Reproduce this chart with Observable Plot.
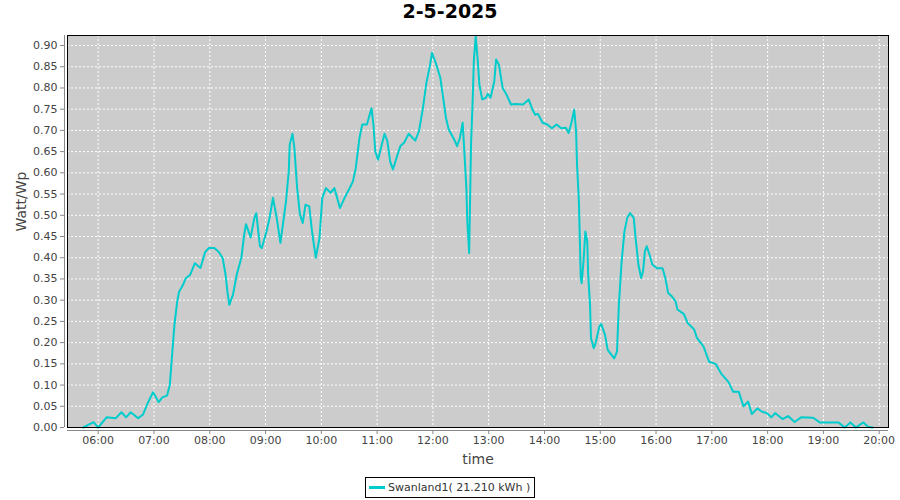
<!DOCTYPE html>
<html>
<head>
<meta charset="utf-8">
<script src="https://cdn.jsdelivr.net/npm/d3@7"></script>
<script src="https://cdn.jsdelivr.net/npm/@observablehq/plot@0.6"></script>
<style>
  body { margin: 0; background: #fff; }
  #wrap { width: 900px; height: 500px; position: relative; }
  #title { height: 30px; line-height: 30px; text-align: center; font: bold 19px "DejaVu Sans", sans-serif; color: #000; }
  #chart svg { display: block; }
  #legend { position: absolute; left: 365px; top: 477px; width: 168px; height: 19px; border: 1px solid #000;
            display: flex; align-items: center; font: 11px "DejaVu Sans", sans-serif; color: #333; white-space: nowrap; }
  #legend .sw { width: 16px; height: 3px; background: #00cccc; margin: 0 3px 0 3px; }
</style>
</head>
<body>
<div id="wrap">
  <div id="title"></div>
  <div id="chart"></div>
  <div id="legend"><span class="sw"></span><span id="legtext"></span></div>
</div>
<script>
const chartTitle = "2-5-2025";
const seriesName = "Swanland1( 21.210 kWh )";
const xLabel = "time";
const yLabel = "Watt/Wp";

const times = ["05:44","05:55","06:00","06:09","06:19","06:25","06:30","06:35","06:43","06:48","06:54","06:59",
"07:05","07:09","07:14","07:17","07:19","07:22","07:25","07:27","07:31","07:34","07:39","07:44","07:50","07:55","07:59",
"08:05","08:10","08:14","08:17","08:19","08:21","08:25","08:29","08:34","08:37","08:39","08:44","08:48","08:50","08:54","08:56",
"09:01","09:04","09:08","09:12","09:16","09:22","09:25","09:26","09:29","09:31","09:34","09:37","09:40","09:43","09:47","09:50","09:54","09:58",
"10:01","10:05","10:10","10:14","10:17","10:20","10:25","10:30","10:34","10:37","10:41","10:44","10:49","10:54","10:56","10:58",
"11:01","11:06","11:08","11:11","11:14","11:17","11:22","11:25","11:29","11:34","11:41","11:45","11:49","11:53","11:57","11:59",
"12:03","12:08","12:11","12:14","12:17","12:23","12:26","12:29","12:32","12:34","12:36","12:37","12:39","12:41","12:43","12:44","12:46","12:48","12:50","12:53","12:57","12:59",
"13:02","13:06","13:08","13:11","13:15","13:19","13:24","13:29","13:37","13:43","13:47","13:50","13:53","13:58",
"14:03","14:08","14:13","14:18","14:23","14:26","14:29","14:32","14:34","14:35","14:37","14:38","14:39","14:40","14:42","14:44","14:46","14:47","14:49","14:50","14:53","14:55","14:59",
"15:01","15:05","15:08","15:15","15:18","15:20","15:23","15:26","15:29","15:32","15:36","15:38","15:41","15:44","15:46","15:48","15:50","15:53","15:56",
"16:01","16:07","16:10","16:13","16:17","16:21","16:23","16:30","16:34","16:41","16:44","16:51","16:57",
"17:04","17:10","17:18","17:23","17:29","17:34","17:39","17:43","17:49","17:54","17:59",
"18:04","18:08","18:16","18:22","18:29","18:36","18:49","18:56",
"19:16","19:23","19:29","19:35","19:43","19:48","19:53"];

const values = [0,0.0125,0,0.024,0.022,0.036,0.024,0.036,0.022,0.030,0.061,0.083,
0.060,0.071,0.075,0.10,0.156,0.242,0.297,0.32,0.335,0.351,0.36,0.387,0.376,0.413,0.423,
0.423,0.413,0.398,0.36,0.32,0.289,0.313,0.36,0.40,0.454,0.479,0.448,0.494,0.505,0.427,0.423,
0.462,0.49,0.541,0.494,0.435,0.533,0.604,0.667,0.692,0.659,0.564,0.502,0.482,0.525,0.521,0.462,0.40,0.446,
0.541,0.564,0.553,0.564,0.541,0.517,0.541,0.562,0.58,0.611,0.682,0.714,0.714,0.752,0.714,0.651,
0.631,0.675,0.692,0.675,0.627,0.608,0.643,0.663,0.671,0.692,0.676,0.698,0.749,0.812,0.855,0.883,
0.859,0.824,0.777,0.73,0.702,0.678,0.663,0.682,0.718,0.643,0.564,0.486,0.411,0.667,0.785,0.863,0.922,0.871,0.808,0.773,0.777,0.786,
0.777,0.816,0.867,0.855,0.80,0.785,0.761,0.762,0.761,0.773,0.749,0.737,0.739,0.718,
0.714,0.705,0.714,0.705,0.706,0.694,0.718,0.749,0.698,0.62,0.533,0.446,0.352,0.34,0.392,0.462,0.439,0.36,0.289,0.211,0.187,0.199,0.238,
0.244,0.219,0.183,0.163,0.179,0.289,0.392,0.462,0.494,0.505,0.494,0.446,0.384,0.352,0.368,0.415,0.427,0.407,0.384,
0.375,0.375,0.352,0.317,0.309,0.297,0.278,0.267,0.246,0.231,0.211,0.191,0.155,
0.150,0.127,0.107,0.084,0.084,0.05,0.061,0.032,0.045,0.037,0.034,
0.024,0.034,0.020,0.027,0.013,0.024,0.023,0.012,
0.012,0,0.012,0,0.012,0.002,0];

const xTickLabels = ["06:00","07:00","08:00","09:00","10:00","11:00","12:00","13:00","14:00","15:00","16:00","17:00","18:00","19:00","20:00"];
const yTicks = [0,0.05,0.10,0.15,0.20,0.25,0.30,0.35,0.40,0.45,0.50,0.55,0.60,0.65,0.70,0.75,0.80,0.85,0.90];
const xDomain = ["05:27","20:10"];
const yDomain = [0, 0.9236];

const parse = d3.utcParse("%H:%M");
const data = times.map((t, i) => ({time: parse(t), value: values[i]}));
const xTicks = xTickLabels.map(parse);

document.getElementById("title").textContent = chartTitle;
document.getElementById("legtext").textContent = seriesName;

const plot = Plot.plot({
  width: 900,
  height: 440,
  marginTop: 5,
  marginBottom: 43,
  marginLeft: 67,
  marginRight: 12,
  style: {fontFamily: "DejaVu Sans, sans-serif", fontSize: "11px", background: "#fff"},
  x: {type: "utc", domain: xDomain.map(parse)},
  y: {domain: yDomain},
  marks: [
    Plot.frame({fill: "#cccccc"}),
    Plot.gridX(xTicks, {stroke: "#fff", strokeOpacity: 1, strokeDasharray: "2,2"}),
    Plot.gridY(yTicks, {stroke: "#fff", strokeOpacity: 1, strokeDasharray: "2,2"}),
    Plot.line(data, {x: "time", y: "value", stroke: "#00cccc", strokeWidth: 2}),
    Plot.frame({stroke: "#000"}),
    Plot.ruleX([xDomain[0]].map(parse), {dx: -3, stroke: "#888"}),
    Plot.ruleY([yDomain[0]], {dy: 3, stroke: "#888"}),
    Plot.axisX(xTicks, {tickFormat: d3.utcFormat("%H:%M"), tickSize: 4, tickPadding: 2, dy: 3, stroke: "#888", fill: "#444", label: null}),
    Plot.axisY(yTicks, {tickFormat: d3.format(".2f"), tickSize: 4, tickPadding: 3, dx: -3, stroke: "#888", fill: "#444", label: null}),
    Plot.text([xLabel], {frameAnchor: "bottom", dy: 36, fontSize: 14, fill: "#444"}),
    Plot.text([yLabel], {frameAnchor: "left", dx: -46, rotate: -90, fontSize: 14, fill: "#444"})
  ]
});
document.getElementById("chart").appendChild(plot);
</script>
</body>
</html>
